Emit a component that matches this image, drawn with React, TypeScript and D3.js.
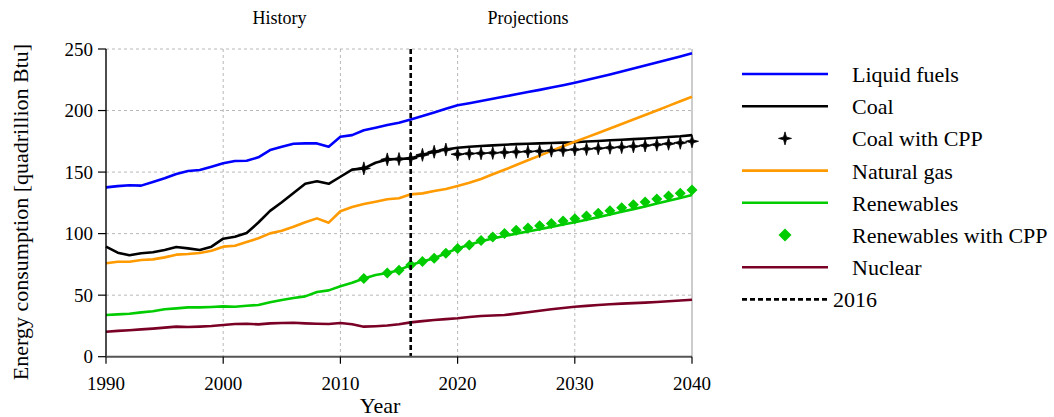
import React from "react";
import * as d3 from "d3";

// Annual energy consumption by fuel, quadrillion Btu
const years: number[] = d3.range(1990, 2041);

const liquidFuels = [
  137.6, 138.6, 139.3, 139.0, 142.0, 145.0, 148.4, 150.9, 151.7, 154.4,
  157.1, 159.0, 159.2, 162.0, 167.9, 170.6, 173.0, 173.3, 173.3, 170.6,
  178.7, 180.0, 184.0, 186.0, 188.2, 190.1, 192.8, 195.5, 198.5, 201.5,
  204.3, 206.0, 207.8, 209.6, 211.4, 213.2, 215.0, 216.8, 218.7, 220.6,
  222.6, 224.8, 227.0, 229.3, 231.7, 234.2, 236.6, 239.0, 241.5, 244.0, 246.5,
];

const coal = [
  89.4, 84.5, 82.4, 84.0, 84.8, 86.7, 89.1, 88.0, 86.7, 89.4,
  95.9, 97.5, 100.5, 109.0, 118.5, 125.5, 133.0, 140.5, 142.5, 140.5,
  146.2, 152.0, 153.0, 157.6, 160.3, 160.6, 161.1, 164.0, 166.5, 168.3,
  169.8, 170.6, 171.2, 171.7, 172.2, 172.7, 173.0, 173.3, 173.6, 173.9,
  174.2, 174.8, 175.3, 175.8, 176.3, 176.8, 177.3, 177.9, 178.5, 179.1, 180.0,
];

const naturalGas = [
  75.9, 77.2, 77.2, 78.6, 79.1, 80.7, 82.9, 83.4, 84.2, 86.1,
  89.4, 90.2, 93.2, 96.2, 100.2, 102.4, 105.6, 109.2, 112.4, 108.9,
  118.2, 121.6, 124.0, 125.9, 127.9, 128.7, 131.9, 132.7, 134.6, 136.2,
  138.7, 141.4, 144.4, 148.2, 151.9, 155.7, 159.6, 163.4, 167.2, 171.0,
  174.6, 178.2, 181.8, 185.4, 189.0, 192.7, 196.4, 200.1, 203.8, 207.5, 211.2,
];

const renewables = [
  33.9, 34.4, 34.9, 36.0, 36.9, 38.5, 39.3, 40.1, 40.1, 40.4,
  40.9, 40.6, 41.4, 42.0, 44.2, 46.1, 47.7, 49.0, 52.6, 53.9,
  57.3, 60.1, 63.6, 66.4, 68.0, 70.3, 74.5, 77.3, 80.0, 84.0,
  88.0, 91.0, 93.8, 96.0, 98.0, 100.0, 101.8, 103.6, 105.5, 107.4,
  109.3, 111.3, 113.4, 115.5, 117.7, 119.9, 122.1, 124.4, 126.7, 129.0, 131.3,
];

const nuclear = [
  20.3, 21.0, 21.5, 22.2, 22.8, 23.6, 24.4, 24.1, 24.4, 24.9,
  25.7, 26.6, 26.8, 26.3, 27.1, 27.4, 27.6, 27.1, 26.8, 26.6,
  27.4, 26.3, 24.4, 24.8, 25.3, 26.4, 27.9, 28.9, 29.8, 30.5,
  31.2, 32.2, 33.1, 33.5, 33.9, 35.0, 36.1, 37.3, 38.5, 39.6,
  40.6, 41.3, 42.0, 42.6, 43.1, 43.5, 43.9, 44.5, 45.0, 45.6, 46.3,
];

// Clean Power Plan scenario, marker years
const cppYears = [
  2012, 2014, 2015, 2016, 2017, 2018, 2019, 2020, 2021, 2022, 2023, 2024, 2025, 2026,
  2027, 2028, 2029, 2030, 2031, 2032, 2033, 2034, 2035, 2036, 2037, 2038, 2039, 2040,
];

const coalCpp = [
  153.0, 160.3, 160.6, 161.1, 164.0, 166.5, 168.3,
  164.5, 165.0, 165.3, 165.6, 166.0, 166.4, 166.7, 167.0, 167.4, 167.8,
  168.3, 168.8, 169.3, 169.8, 170.3, 170.9, 171.6, 172.3, 173.0, 173.8, 175.0,
];

const renewablesCpp = [
  63.6, 68.0, 70.3, 74.5, 77.3, 80.0, 84.0,
  88.0, 90.8, 94.5, 97.3, 100.0, 102.7, 104.5, 106.4, 108.3, 110.2,
  112.1, 114.3, 116.5, 118.6, 121.0, 123.5, 125.7, 128.1, 130.5, 132.7, 135.4,
];

const xTicks = [1990, 2000, 2010, 2020, 2030, 2040];
const yTicks = [0, 50, 100, 150, 200, 250];
const splitYear = 2016;

const COLORS = {
  liquid: "#0000ff",
  coal: "#000000",
  gas: "#ff9a00",
  renew: "#00cc00",
  nuclear: "#7a0026",
};

const FONT = "'Liberation Serif', 'Times New Roman', serif";

const W = 1054;
const H = 417;
const plot = { left: 106, right: 692, top: 49, bottom: 356.7 };

const x = d3.scaleLinear().domain([1990, 2040]).range([plot.left, plot.right]);
const y = d3.scaleLinear().domain([0, 250]).range([plot.bottom, plot.top]);

const line = d3
  .line<[number, number]>()
  .x((d) => x(d[0]))
  .y((d) => y(d[1]));

const pairs = (xs: number[], vs: number[]): [number, number][] =>
  xs.map((yr, i) => [yr, vs[i]]);

// Four-point star used for the coal CPP markers
const starPath = (r: number) =>
  `M0,${-r} L1.4,-1.4 L${r},0 L1.4,1.4 L0,${r} L-1.4,1.4 L${-r},0 L-1.4,-1.4 Z`;
const diamondPath = (r: number) => `M0,${-r} L${r},0 L0,${r} L${-r},0 Z`;

type LegendItem = {
  label: string;
  kind: "line" | "star" | "diamond" | "dash";
  color: string;
};

const legendItems: LegendItem[] = [
  { label: "Liquid fuels", kind: "line", color: COLORS.liquid },
  { label: "Coal", kind: "line", color: COLORS.coal },
  { label: "Coal with CPP", kind: "star", color: COLORS.coal },
  { label: "Natural gas", kind: "line", color: COLORS.gas },
  { label: "Renewables", kind: "line", color: COLORS.renew },
  { label: "Renewables with CPP", kind: "diamond", color: COLORS.renew },
  { label: "Nuclear", kind: "line", color: COLORS.nuclear },
  { label: "2016", kind: "dash", color: "#000" },
];

export default function App() {
  const series = [
    { values: liquidFuels, color: COLORS.liquid },
    { values: coal, color: COLORS.coal },
    { values: naturalGas, color: COLORS.gas },
    { values: renewables, color: COLORS.renew },
    { values: nuclear, color: COLORS.nuclear },
  ];

  const legendX0 = 742;
  const legendX1 = 828;
  const legendTextX = 852;
  const legendY0 = 74;
  const legendStep = 32.2;

  return (
    <svg
      width={W}
      height={H}
      style={{ position: "absolute", left: 0, top: 0, background: "#fff" }}
      fontFamily={FONT}
    >
      <rect x={0} y={0} width={W} height={H} fill="#fff" />

      {/* grid */}
      {yTicks
        .filter((t) => t > 0)
        .map((t) => (
          <line
            key={`gy${t}`}
            x1={plot.left}
            x2={plot.right}
            y1={y(t)}
            y2={y(t)}
            stroke="#b8b8b8"
            strokeWidth={1}
            strokeDasharray="3,3"
          />
        ))}
      {xTicks
        .filter((t) => t > 1990 && t < 2040)
        .map((t) => (
          <line
            key={`gx${t}`}
            x1={x(t)}
            x2={x(t)}
            y1={plot.top}
            y2={plot.bottom}
            stroke="#b8b8b8"
            strokeWidth={1}
            strokeDasharray="3,3"
          />
        ))}
      <line
        x1={plot.right}
        x2={plot.right}
        y1={plot.top}
        y2={plot.bottom}
        stroke="#aaaaaa"
        strokeWidth={1.2}
      />

      {/* series lines */}
      {series.map((s, i) => (
        <path
          key={`s${i}`}
          d={line(pairs(years, s.values)) || ""}
          fill="none"
          stroke={s.color}
          strokeWidth={2.6}
          strokeLinejoin="round"
        />
      ))}

      {/* CPP markers */}
      {cppYears.map((yr, i) => (
        <path
          key={`rc${yr}`}
          d={diamondPath(5.5)}
          transform={`translate(${x(yr)},${y(renewablesCpp[i])})`}
          fill={COLORS.renew}
        />
      ))}
      {cppYears.map((yr, i) => (
        <path
          key={`cc${yr}`}
          d={starPath(6.5)}
          transform={`translate(${x(yr)},${y(coalCpp[i])})`}
          fill={COLORS.coal}
          stroke={COLORS.coal}
          strokeWidth={0.8}
        />
      ))}

      {/* 2016 divider */}
      <line
        x1={x(splitYear)}
        x2={x(splitYear)}
        y1={plot.top}
        y2={plot.bottom}
        stroke="#000"
        strokeWidth={2.6}
        strokeDasharray="5,3"
      />

      {/* axes */}
      <line
        x1={plot.left}
        x2={plot.left}
        y1={plot.top}
        y2={plot.bottom}
        stroke="#000"
        strokeWidth={1.4}
      />
      <line
        x1={plot.left}
        x2={plot.right}
        y1={plot.bottom}
        y2={plot.bottom}
        stroke="#555"
        strokeWidth={2}
      />
      {yTicks.map((t) => (
        <g key={`yt${t}`}>
          <line x1={plot.left - 8} x2={plot.left} y1={y(t)} y2={y(t)} stroke="#000" strokeWidth={1.2} />
          <text x={plot.left - 13} y={y(t) + 6.5} textAnchor="end" fontSize={19} fill="#000">
            {t}
          </text>
        </g>
      ))}
      {xTicks.map((t) => (
        <g key={`xt${t}`}>
          <line x1={x(t)} x2={x(t)} y1={plot.bottom} y2={plot.bottom + 7} stroke="#000" strokeWidth={1.2} />
          <text x={x(t)} y={389.5} textAnchor="middle" fontSize={19} fill="#000">
            {t}
          </text>
        </g>
      ))}

      {/* titles */}
      <text x={279.5} y={24} textAnchor="middle" fontSize={18} fill="#000">
        History
      </text>
      <text x={528} y={24} textAnchor="middle" fontSize={18} fill="#000">
        Projections
      </text>
      <text x={380} y={413} textAnchor="middle" fontSize={22} fill="#000">
        Year
      </text>
      <text
        transform={`translate(28,${212}) rotate(-90)`}
        textAnchor="middle"
        fontSize={22}
        fill="#000"
      >
        Energy consumption [quadrillion Btu]
      </text>

      {/* legend */}
      {legendItems.map((it, i) => {
        const cy = legendY0 + i * legendStep;
        const mid = (legendX0 + legendX1) / 2;
        return (
          <g key={`lg${i}`}>
            {it.kind === "line" && (
              <line x1={legendX0} x2={legendX1} y1={cy} y2={cy} stroke={it.color} strokeWidth={2.6} />
            )}
            {it.kind === "dash" && (
              <line
                x1={legendX0}
                x2={legendX1}
                y1={cy}
                y2={cy}
                stroke={it.color}
                strokeWidth={2.6}
                strokeDasharray="5,3"
              />
            )}
            {it.kind === "star" && (
              <path d={starPath(6.5)} transform={`translate(${mid},${cy})`} fill={it.color} stroke={it.color} strokeWidth={0.8} />
            )}
            {it.kind === "diamond" && (
              <path d={diamondPath(6.5)} transform={`translate(${mid},${cy})`} fill={it.color} />
            )}
            <text
              x={it.kind === "dash" ? legendX1 + 5 : legendTextX}
              y={cy + 8}
              fontSize={22}
              fill="#000"
            >
              {it.label}
            </text>
          </g>
        );
      })}
    </svg>
  );
}
